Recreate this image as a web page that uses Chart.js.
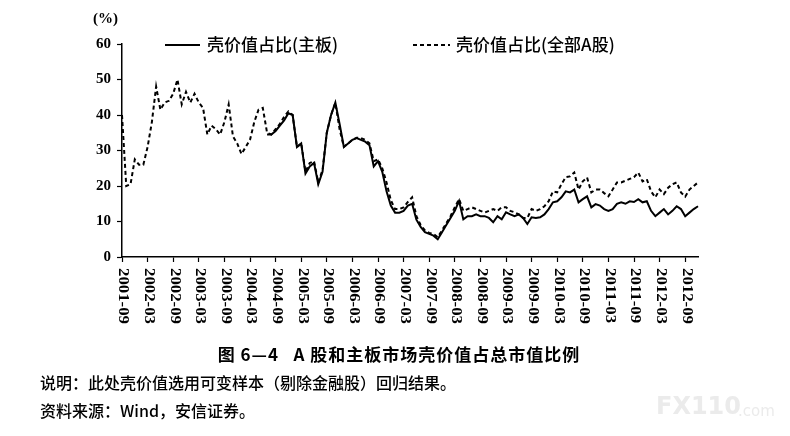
<!DOCTYPE html>
<html>
<head>
<meta charset="utf-8">
<script src="https://cdn.jsdelivr.net/npm/chart.js@4/dist/chart.umd.min.js"></script>
<style>
  html, body { margin: 0; padding: 0; background: #fff; }
  #wrap { width: 790px; height: 436px; }
</style>
</head>
<body>
<div id="wrap"><canvas id="shellChart" width="790" height="436"></canvas></div>
<script>
// months 2001-09 .. 2012-12
const months = [];
for (let y = 2001; y <= 2012; y++) {
    for (let m = 1; m <= 12; m++) {
        if (y === 2001 && m < 9) continue;
        months.push(y + '-' + (m < 10 ? '0' + m : m));
    }
}

const xTickLabels = ['2001-09', '2002-03', '2002-09', '2003-03', '2003-09', '2004-03', '2004-09',
    '2005-03', '2005-09', '2006-03', '2006-09', '2007-03', '2007-09', '2008-03', '2008-09',
    '2009-03', '2009-09', '2010-03', '2010-09', '2011-03', '2011-09', '2012-03', '2012-09'];
const yTicks = [0, 10, 20, 30, 40, 50, 60];

// 壳价值占比(全部A股), 2001-09 .. 2012-12
const shellAllA = [
    40, 20, 20.5, 27.5, 26, 26, 31, 38, 48, 41.5,
    43.5, 44, 46, 50, 43, 46.5, 43.5, 46, 43.5, 42,
    34.5, 37, 36, 34.5, 38, 43, 34, 32, 29, 31,
    33, 38, 41.5, 42, 35, 34.5, 36, 37.5, 39.5, 41,
    40, 31, 32, 24, 26.5, 27, 21, 24.5, 35, 40,
    43.4, 36, 31, 32, 33, 33.6, 33.5, 33, 32, 27,
    27.5, 25, 21, 16, 13.5, 13.5, 14, 15.5, 16.8, 11.5,
    9, 7.5, 6.8, 6.5, 5.6, 7.5, 9.5, 11.5, 14, 16.3,
    13, 13.5, 14, 13.5, 13, 12.5, 13, 13.5, 13, 14,
    14, 13, 12.6, 12, 11, 11, 13.5, 13, 13.5, 14.3,
    15.7, 18.5, 18.2, 20.5, 22.5, 22.7, 23.8, 19, 21.3, 22.4,
    18.2, 19, 19, 18, 17.1, 19, 21, 21, 21.5, 22,
    22.5, 23.8, 21.3, 21.9, 18.5, 16.8, 19, 17.7, 19.5, 20.5,
    21, 18.2, 17, 19, 20, 21
];

// 壳价值占比(主板), from 2004-07 .. 2012-12
const shellMainFrom200407 = [
    34.5, 34.5, 35.5, 37, 38.5, 40.5,
    40, 31, 32, 23.5, 25.5, 26.5, 20.5, 24, 35, 40,
    43.5, 37.5, 31, 32, 33, 33.5, 33, 32.5, 31.5, 25.5,
    27, 24, 18.5, 14.5, 12.5, 12.5, 13, 14.5, 15, 10.5,
    8.5, 7, 6.5, 6, 5, 7, 9, 11, 13, 15.8,
    10.6, 11.5, 11.5, 12, 11.5, 11.5, 11, 9.8, 11.5, 10.6,
    12.6, 12, 11.5, 12, 11, 9.3, 11.2, 11, 11.2, 12,
    13.5, 15.4, 15.7, 16.8, 18.5, 18.2, 19, 15.4, 16.3, 17.1,
    14, 14.9, 14.5, 13.5, 13, 13.5, 15, 15.4, 15, 15.7,
    15.5, 16.3, 15.4, 15.7, 13, 11.5, 12.5, 13.5, 12, 13,
    14.3, 13.5, 11.5, 12.5, 13.5, 14.3
];
const shellMain = months.map((m, i) => {
    const k = i - months.indexOf('2004-07');
    return k >= 0 ? shellMainFrom200407[k] : null;
});

const serif = '"Liberation Serif", "DejaVu Serif", serif';
const cjk = '"Noto Sans CJK SC", sans-serif';

// rotated x labels, legend and captions
const decorPlugin = {
    id: 'decor',
    afterDraw(chart) {
        const ctx = chart.ctx;
        const xs = chart.scales.x;
        const area = chart.chartArea;

        ctx.save();
        ctx.fillStyle = '#000';
        ctx.font = 'bold 14px ' + serif;
        ctx.textAlign = 'left';
        ctx.textBaseline = 'middle';
        xTickLabels.forEach(lbl => {
            const px = xs.getPixelForValue(months.indexOf(lbl));
            ctx.save();
            ctx.translate(px + 1, area.bottom + 11);
            ctx.rotate(Math.PI / 2);
            ctx.scale(1.2, 1);
            ctx.fillText(lbl, 0, 0);
            ctx.restore();
        });

        // unit
        ctx.font = 'bold 15px ' + serif;
        ctx.textAlign = 'left';
        ctx.fillText('(%)', 93, 19);

        // legend
        const items = [
            { ds: chart.data.datasets[0], x0: 165, x1: 200, tx: 207 },
            { ds: chart.data.datasets[1], x0: 413, x1: 450, tx: 456 }
        ];
        items.forEach(it => {
            ctx.save();
            ctx.strokeStyle = '#000';
            ctx.lineWidth = it.ds.borderWidth;
            ctx.setLineDash(it.ds.borderDash || []);
            ctx.beginPath();
            ctx.moveTo(it.x0, 45);
            ctx.lineTo(it.x1, 45);
            ctx.stroke();
            ctx.restore();
            ctx.font = '500 17px ' + cjk;
            ctx.fillText(it.ds.label, it.tx, 45);
        });

        // caption and notes
        ctx.textAlign = 'center';
        ctx.font = 'bold 17px ' + cjk;
        ctx.letterSpacing = '1px';
        ctx.fillText('图 6—4   A 股和主板市场壳价值占总市值比例', 399, 355);
        ctx.letterSpacing = '0px';
        ctx.textAlign = 'left';
        ctx.font = '500 16px ' + cjk;
        ctx.fillText('说明：此处壳价值选用可变样本（剔除金融股）回归结果。', 40, 383);
        ctx.fillText('资料来源：Wind，安信证券。', 40, 411);

        // watermark
        ctx.fillStyle = '#ebebeb';
        ctx.font = 'bold 24px "DejaVu Sans", sans-serif';
        ctx.fillText('FX110', 656, 408);
        ctx.font = '15px "DejaVu Sans", sans-serif';
        ctx.fillText('.com', 738, 412);
        ctx.restore();
    }
};

document.addEventListener('DOMContentLoaded', () => {
    const ctx = document.getElementById('shellChart').getContext('2d');
    new Chart(ctx, {
        type: 'line',
        data: {
            labels: months,
            datasets: [
                {
                    label: '壳价值占比(主板)',
                    data: shellMain,
                    borderColor: '#000',
                    borderWidth: 2,
                    pointRadius: 0,
                    tension: 0,
                    spanGaps: false
                },
                {
                    label: '壳价值占比(全部A股)',
                    data: shellAllA,
                    borderColor: '#000',
                    borderWidth: 2,
                    borderDash: [4, 3],
                    pointRadius: 0,
                    tension: 0
                }
            ]
        },
        options: {
            responsive: false,
            animation: false,
            layout: { padding: { left: 90, right: 92, top: 44, bottom: 0 } },
            plugins: {
                legend: { display: false },
                tooltip: { enabled: false }
            },
            scales: {
                x: {
                    type: 'category',
                    offset: false,
                    afterFit: s => { s.height = 179; },
                    border: { display: true, color: '#000', width: 1.5 },
                    grid: {
                        drawOnChartArea: false,
                        drawTicks: true,
                        tickLength: 5,
                        tickColor: c => (xTickLabels.includes(months[c.index]) ? '#000' : 'rgba(0,0,0,0)'),
                        tickWidth: 1.2
                    },
                    ticks: { display: false, autoSkip: false }
                },
                y: {
                    min: 0,
                    max: 60,
                    afterFit: s => { s.width = 32; },
                    afterBuildTicks: s => { s.ticks = yTicks.map(v => ({ value: v })); },
                    border: { display: true, color: '#000', width: 1.5 },
                    grid: {
                        drawOnChartArea: false,
                        tickLength: 5,
                        tickColor: '#000',
                        tickWidth: 1.2
                    },
                    ticks: {
                        color: '#000',
                        padding: 6,
                        font: { family: serif, size: 15, weight: 'bold' }
                    }
                }
            }
        },
        plugins: [decorPlugin]
    });
});
</script>
</body>
</html>
